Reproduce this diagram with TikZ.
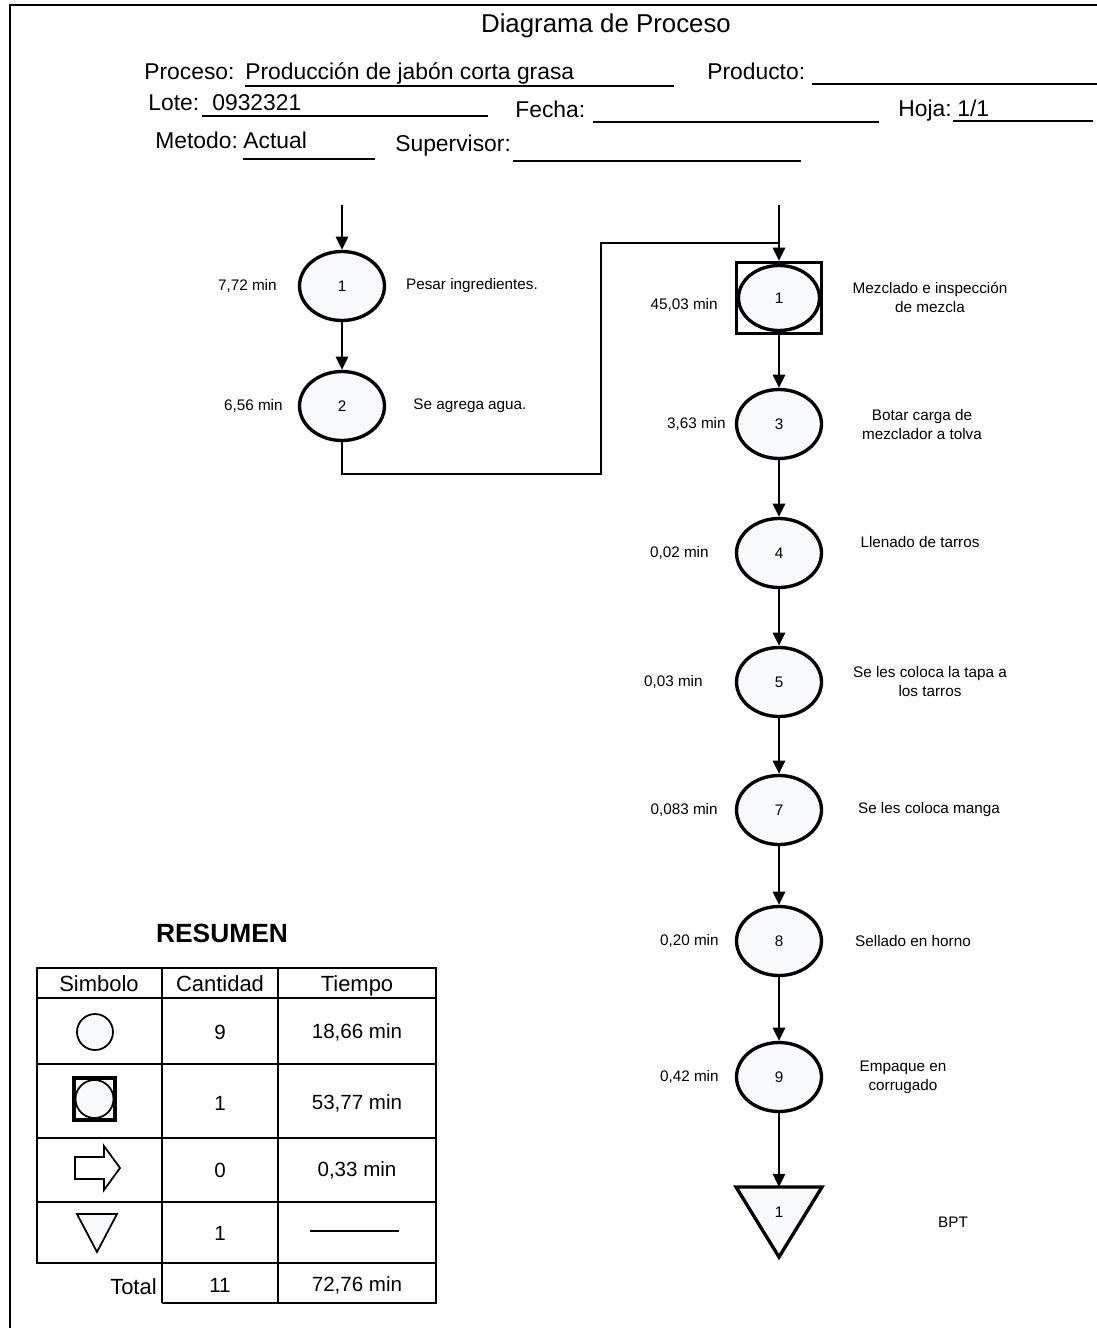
\documentclass[tikz,border=0pt]{standalone}
\usepackage{fontspec}
\setmainfont{Liberation Sans}
\usetikzlibrary{arrows.meta,shapes.geometric,positioning}

\definecolor{relleno}{RGB}{248,249,253}

\tikzset{
  operacion/.style={draw, ellipse, line width=1.9pt, fill=relleno, minimum width=1.7cm, minimum height=1.38cm, inner sep=0pt, font=\fontsize{8.7}{10.8}\selectfont},
  inspeccion/.style={draw, rectangle, line width=1.9pt, fill=white, minimum width=1.7cm, minimum height=1.42cm, inner sep=0pt},
  flecha/.style={line width=1.1pt, -{Triangle[length=7.5pt,width=7pt]}},
  linea/.style={line width=1.1pt},
  etiq/.style={font=\fontsize{8.7}{10.8}\selectfont, align=center, inner sep=0pt},
  tiempo/.style={etiq, anchor=east},
  campo/.style={font=\fontsize{13}{15}\selectfont, anchor=base west, inner sep=0pt},
  raya/.style={line width=0.8pt},
  celda/.style={font=\fontsize{12.5}{15}\selectfont, inner sep=0pt, anchor=base},
  valor/.style={font=\fontsize{11.7}{14}\selectfont, inner sep=0pt},
  tabla/.style={line width=1pt},
}

\begin{document}
\begin{tikzpicture}[x=0.02cm, y=-0.02cm]
    \useasboundingbox (0,0) rectangle (1097,1328);
    \draw[line width=1.3pt] (1097,5) -- (10,5) -- (10,1328);

    \node[font=\fontsize{14.7}{17}\selectfont, anchor=base, inner sep=0pt] (titulo) at (606,33) {Diagrama de Proceso};

    \node[campo] (proceso) at (144,80) {Proceso:};
    \node[campo] (procesov) at (245,80) {Producción de jabón corta grasa};
    \draw[raya] (245,86) -- (674,86);
    \node[campo] (producto) at (707,80) {Producto:};
    \draw[raya] (812,84) -- (1097,84);
    \node[campo] (lote) at (148,111) {Lote:};
    \node[campo] (lotev) at (212,111) {0932321};
    \draw[raya] (202,116) -- (488,116);
    \node[campo] (fecha) at (515,117) {Fecha:};
    \draw[raya] (593,122) -- (879,122);
    \node[campo] (hoja) at (898,116) {Hoja:};
    \node[campo] (hojav) at (957,116) {1/1};
    \draw[raya] (953,121) -- (1093,121);
    \node[campo] (metodo) at (155,149) {Metodo:};
    \node[campo] (metodov) at (243,149) {Actual};
    \draw[raya] (243,159) -- (375,159);
    \node[campo] (supervisor) at (395,152) {Supervisor:};
    \draw[raya] (513,161) -- (801,161);

    \coordinate (entradaA) at (342,205);
    \node[operacion] (o1) at (342,286) {1};
    \node[operacion] (o2) at (342,406) {2};
    \draw[flecha] (entradaA) -- (o1);
    \draw[flecha] (o1) -- (o2);
    \node[tiempo] (t1) at (277,286) {7,72 min};
    \node[tiempo] (t2) at (283,406) {6,56 min};
    \node[etiq] (d1) at (472,286) {Pesar ingredientes.};
    \node[etiq] (d2) at (470,406) {Se agrega agua.};

    \coordinate (entradaB) at (779,205);
    \node[inspeccion] (i1) at (779,298) {};
    \node[operacion, minimum width=1.62cm, minimum height=1.30cm] (i1c) at (i1) {1};
    \foreach \n/\y in {3/424,4/553,5/682,7/810,8/941,9/1077}
        \node[operacion] (o\n) at (779,\y) {\n};
    \draw[flecha] (entradaB) -- (i1);
    \coordinate (codo) at (601,474);
    \coordinate (union) at (779,243);
    \draw[linea] (o2.south) |- (codo) |- (union);
    \draw[flecha] (i1) -- (o3);
    \foreach \a/\b in {3/4,4/5,5/7,7/8,8/9}
        \draw[flecha] (o\a) -- (o\b);

    \coordinate (almtop) at (779,1187);
    \draw[line width=1.9pt, fill=relleno, line join=miter] (736,1187) -- (822,1187) -- (779,1257) -- cycle;
    \node[etiq] (a1) at (779,1212) {1};
    \draw[flecha] (o9) -- (almtop);

    \node[tiempo] (t3) at (718,305) {45,03 min};
    \node[tiempo] (t4) at (726,424) {3,63 min};
    \node[tiempo] (t5) at (709,553) {0,02 min};
    \node[tiempo] (t6) at (703,682) {0,03 min};
    \node[tiempo] (t7) at (718,810) {0,083 min};
    \node[tiempo] (t8) at (719,941) {0,20 min};
    \node[tiempo] (t9) at (719,1077) {0,42 min};

    \node[etiq] (d3) at (930,297) {Mezclado e inspección\\de mezcla};
    \node[etiq] (d4) at (922,425) {Botar carga de\\mezclador a tolva};
    \node[etiq] (d5) at (920,542) {Llenado de tarros};
    \node[etiq] (d6) at (930,682) {Se les coloca la tapa a\\los tarros};
    \node[etiq] (d7) at (929,810) {Se les coloca manga};
    \node[etiq] (d8) at (913,941) {Sellado en horno};
    \node[etiq] (d9) at (903,1077) {Empaque en\\corrugado};
    \node[etiq] (bpt) at (953,1222) {BPT};

    \node[font=\bfseries\fontsize{15}{18}\selectfont, inner sep=0pt] (resumen) at (222,933) {RESUMEN};
    \draw[tabla] (37,968) rectangle (436,1263);
    \foreach \y in {998,1064,1138,1202}
        \draw[tabla] (37,\y) -- (436,\y);
    \foreach \x in {162,278}
        \draw[tabla] (\x,968) -- (\x,1303);
    \draw[tabla] (162,1303) -- (436,1303) -- (436,1263);

    \node[celda] (hsimb) at (99,991) {Simbolo};
    \node[celda] (hcant) at (220,991) {Cantidad};
    \node[celda] (htiem) at (357,991) {Tiempo};

    \draw[line width=1pt, fill=relleno] (95,1032) circle (18);
    \draw[line width=1.8pt] (74,1078) rectangle (115,1120);
    \draw[line width=1pt, fill=relleno] (94.5,1099) circle (19);
    \draw[line width=1pt, line join=miter] (75,1157) -- (104,1157) -- (104,1146) -- (120,1168) -- (104,1190) -- (104,1179) -- (75,1179) -- cycle;
    \draw[line width=1pt, fill=relleno] (77,1214) -- (117,1214) -- (97,1252) -- cycle;

    \node[valor] (c1) at (220,1032) {9};
    \node[valor] (c2) at (220,1103) {1};
    \node[valor] (c3) at (220,1170) {0};
    \node[valor] (c4) at (220,1233) {1};
    \node[valor] (v1) at (357,1032) {18,66 min};
    \node[valor] (v2) at (357,1103) {53,77 min};
    \node[valor] (v3) at (357,1170) {0,33 min};
    \draw[line width=1.2pt] (310,1231) -- (399,1231);
    \node[celda, anchor=east] (total) at (157,1287) {Total};
    \node[valor] (ctot) at (220,1285) {11};
    \node[valor] (vtot) at (357,1285) {72,76 min};
\end{tikzpicture}
\end{document}
